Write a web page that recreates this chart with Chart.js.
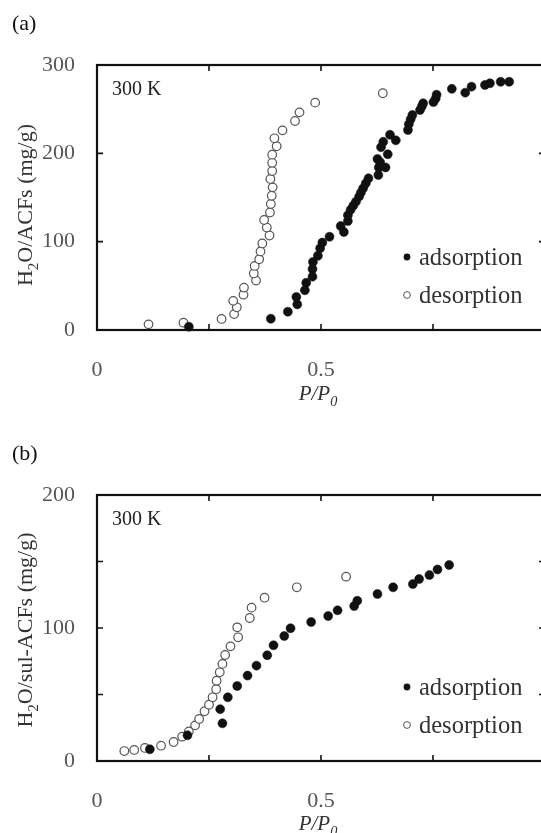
<!DOCTYPE html>
<html>
<head>
<meta charset="utf-8">
<script src="https://cdn.jsdelivr.net/npm/chart.js@4.4.0/dist/chart.umd.min.js"></script>
<style>
body { margin: 0; width: 541px; height: 833px; overflow: hidden; background: #fff; position: relative; }
canvas { position: absolute; left: 0; }
</style>
</head>
<body>
<canvas id="grafico-a" width="600" height="420" style="top:0px"></canvas>
<canvas id="grafico-b" width="600" height="420" style="top:430px"></canvas>
<script>
// (a) ACFs, 300 K
const adsXA = [0.205, 0.388, 0.426, 0.447, 0.445, 0.464, 0.467, 0.481, 0.481, 0.482, 0.493, 0.498, 0.503, 0.519, 0.544, 0.551, 0.560, 0.560, 0.566, 0.572, 0.578, 0.585, 0.589, 0.594, 0.600, 0.606, 0.628, 0.629, 0.644, 0.626, 0.632, 0.649, 0.634, 0.639, 0.654, 0.667, 0.694, 0.696, 0.700, 0.704, 0.721, 0.725, 0.728, 0.751, 0.756, 0.758, 0.792, 0.822, 0.836, 0.866, 0.877, 0.901, 0.920];
const adsYA = [3.7, 12.8, 20.7, 29, 37.4, 45, 53.5, 60.4, 69, 77, 84, 92.5, 99, 105.6, 117.7, 111, 123.4, 130, 136, 140.7, 145.3, 151, 155.5, 160.4, 166, 171.7, 175.5, 184, 184, 193.6, 190, 199, 207, 213, 221, 214.7, 226.4, 233, 238.5, 243.4, 249, 253, 256.6, 258, 262, 266.4, 273, 268.7, 275.5, 277.4, 279.3, 281, 281];
const desXA = [0.115, 0.193, 0.278, 0.306, 0.312, 0.304, 0.327, 0.328, 0.355, 0.350, 0.352, 0.362, 0.365, 0.369, 0.385, 0.379, 0.373, 0.386, 0.388, 0.390, 0.392, 0.387, 0.391, 0.391, 0.391, 0.401, 0.396, 0.414, 0.442, 0.452, 0.487, 0.638];
const desYA = [6.4, 8.3, 12.5, 18, 25.7, 33, 40, 48, 56, 64, 72.5, 80, 89, 98, 107, 116, 124.5, 133, 142.6, 152, 161.5, 171, 180, 189.4, 198.5, 208, 217, 226, 236.6, 246.4, 257.4, 268];

// (b) sul-ACFs, 300 K
const adsXB = [0.118, 0.202, 0.280, 0.275, 0.292, 0.313, 0.336, 0.356, 0.380, 0.394, 0.418, 0.432, 0.478, 0.516, 0.537, 0.574, 0.581, 0.626, 0.661, 0.705, 0.719, 0.742, 0.760, 0.786];
const adsYB = [8.8, 19.3, 28.3, 39, 47.9, 56.4, 64.2, 71.7, 79.5, 87, 94, 99.8, 104.5, 109, 113.3, 116.5, 120.5, 125.6, 130.6, 133, 136.8, 139.8, 144, 147.4];
const desXB = [0.061, 0.083, 0.107, 0.143, 0.171, 0.190, 0.205, 0.219, 0.228, 0.240, 0.250, 0.258, 0.266, 0.267, 0.274, 0.280, 0.286, 0.298, 0.315, 0.313, 0.341, 0.345, 0.374, 0.446, 0.556];
const desYB = [7.5, 8.3, 9.8, 11.5, 14.3, 18.3, 22.3, 26.8, 31.6, 37.4, 42.3, 47.9, 54, 60.4, 66.7, 73, 79.7, 86.2, 93, 100.5, 107.5, 115.3, 122.8, 130.6, 138.6];

// tick labels
const xTickLabels = ['0', '', '0.5', '', '1'];
const yTickLabelsA = ['0', '100', '200', '300'];
const yTickLabelsB = ['0', '', '100', '', '200'];

const serif = "'Liberation Serif', 'Times New Roman', serif";

function pares(xs, ys) {
    return xs.map((v, i) => ({ x: v, y: ys[i] }));
}

// texto com subscrito (partes com sub: true)
function drawRich(ctx, parts, cx, baseY, size, italic) {
    const f = (p) => (p.it || italic ? 'italic ' : '') + (p.sub ? size * 0.68 : size) + 'px ' + serif;
    let w = 0;
    parts.forEach(p => { ctx.font = f(p); w += ctx.measureText(p.t).width; });
    let x = cx - w / 2;
    parts.forEach(p => {
        ctx.font = f(p);
        ctx.fillText(p.t, x, baseY + (p.sub ? size * 0.28 : 0));
        x += ctx.measureText(p.t).width;
    });
}

// moldura com ticks para dentro nos 4 lados
const molduraPlugin = {
    id: 'moldura',
    beforeDatasetsDraw(chart) {
        const { ctx, chartArea: a, scales: { x, y } } = chart;
        ctx.save();
        ctx.strokeStyle = '#111';
        ctx.lineWidth = 1.6;
        ctx.beginPath();
        x.ticks.forEach(t => {
            const px = x.getPixelForValue(t.value);
            ctx.moveTo(px, a.bottom); ctx.lineTo(px, a.bottom - 6);
            ctx.moveTo(px, a.top); ctx.lineTo(px, a.top + 6);
        });
        y.ticks.forEach(t => {
            const py = y.getPixelForValue(t.value);
            ctx.moveTo(a.left, py); ctx.lineTo(a.left + 6, py);
            ctx.moveTo(a.right, py); ctx.lineTo(a.right - 6, py);
        });
        ctx.stroke();
        ctx.lineWidth = 2.2;
        ctx.strokeRect(a.left, a.top, a.right - a.left, a.bottom - a.top);
        ctx.restore();
    }
};

// rotulos: (a)/(b), 300 K, legenda, titulos dos eixos
const textosPlugin = {
    id: 'textos',
    afterDraw(chart, args, opts) {
        const { ctx, chartArea: a } = chart;
        ctx.save();
        ctx.textBaseline = 'alphabetic';
        ctx.textAlign = 'left';

        ctx.fillStyle = '#111';
        ctx.font = '22px ' + serif;
        ctx.fillText(opts.tag, 12, 30);

        ctx.fillStyle = '#222';
        ctx.font = '20px ' + serif;
        ctx.fillText(opts.temp, a.left + 15, a.top + 30);

        // legenda
        const ds = chart.data.datasets;
        const ly = [a.top + 200, a.top + 238];
        ds.forEach((d, i) => {
            ctx.beginPath();
            ctx.arc(407, ly[i] - 8, 3.4, 0, Math.PI * 2);
            if (i === 0) { ctx.fillStyle = '#111'; ctx.fill(); }
            else { ctx.fillStyle = '#fff'; ctx.fill(); ctx.strokeStyle = '#555'; ctx.lineWidth = 1; ctx.stroke(); }
            ctx.fillStyle = '#333';
            ctx.font = '24.5px ' + serif;
            ctx.fillText(d.label, 419, ly[i]);
        });

        // titulo eixo x
        ctx.fillStyle = '#333';
        drawRich(ctx, [{ t: 'P/P', it: true }, { t: '0', sub: true, it: true }], 318, 400, 21, false);

        // titulo eixo y
        ctx.translate(32, opts.yTitleY);
        ctx.rotate(-Math.PI / 2);
        drawRich(ctx, opts.yTitle, 0, 0, 22, false);
        ctx.restore();
    }
};

function criarGrafico(id, o) {
    return new Chart(document.getElementById(id), {
        type: 'scatter',
        data: {
            datasets: [{
                label: 'adsorption',
                data: pares(o.adsX, o.adsY),
                pointRadius: 4.5,
                pointBackgroundColor: '#111',
                pointBorderColor: '#111',
                pointBorderWidth: 0.5
            }, {
                label: 'desorption',
                data: pares(o.desX, o.desY),
                pointRadius: 4.3,
                pointBackgroundColor: '#fff',
                pointBorderColor: '#555',
                pointBorderWidth: 1.2
            }]
        },
        options: {
            responsive: false,
            animation: false,
            devicePixelRatio: 1,
            clip: false,
            layout: { padding: { top: 65, right: 55, left: 0, bottom: 0 } },
            plugins: {
                legend: { display: false },
                tooltip: { enabled: false },
                textos: { tag: o.tag, temp: '300 K', yTitle: o.yTitle, yTitleY: o.yTitleY }
            },
            scales: {
                x: {
                    type: 'linear',
                    min: 0,
                    max: 1,
                    afterFit: s => { s.height = o.xHeight; },
                    ticks: {
                        stepSize: 0.25,
                        padding: 27,
                        color: '#555',
                        font: { family: serif, size: 22 },
                        maxRotation: 0,
                        callback: (v, i) => xTickLabels[i]
                    },
                    grid: { display: false, drawTicks: false },
                    border: { display: false }
                },
                y: {
                    min: 0,
                    max: o.yMax,
                    afterFit: s => { s.width = 97; },
                    ticks: {
                        stepSize: o.yStep,
                        padding: 22,
                        color: '#555',
                        font: { family: serif, size: 22 },
                        callback: (v, i) => o.yLabels[i]
                    },
                    grid: { display: false, drawTicks: false },
                    border: { display: false }
                }
            }
        },
        plugins: [molduraPlugin, textosPlugin]
    });
}

criarGrafico('grafico-a', {
    tag: '(a)', adsX: adsXA, adsY: adsYA, desX: desXA, desY: desYA,
    yMax: 300, yStep: 100, yLabels: yTickLabelsA, xHeight: 90, yTitleY: 205,
    yTitle: [{ t: 'H' }, { t: '2', sub: true }, { t: 'O/ACFs (mg/g)' }]
});

criarGrafico('grafico-b', {
    tag: '(b)', adsX: adsXB, adsY: adsYB, desX: desXB, desY: desYB,
    yMax: 200, yStep: 50, yLabels: yTickLabelsB, xHeight: 89, yTitleY: 200,
    yTitle: [{ t: 'H' }, { t: '2', sub: true }, { t: 'O/sul-ACFs (mg/g)' }]
});
</script>
</body>
</html>
